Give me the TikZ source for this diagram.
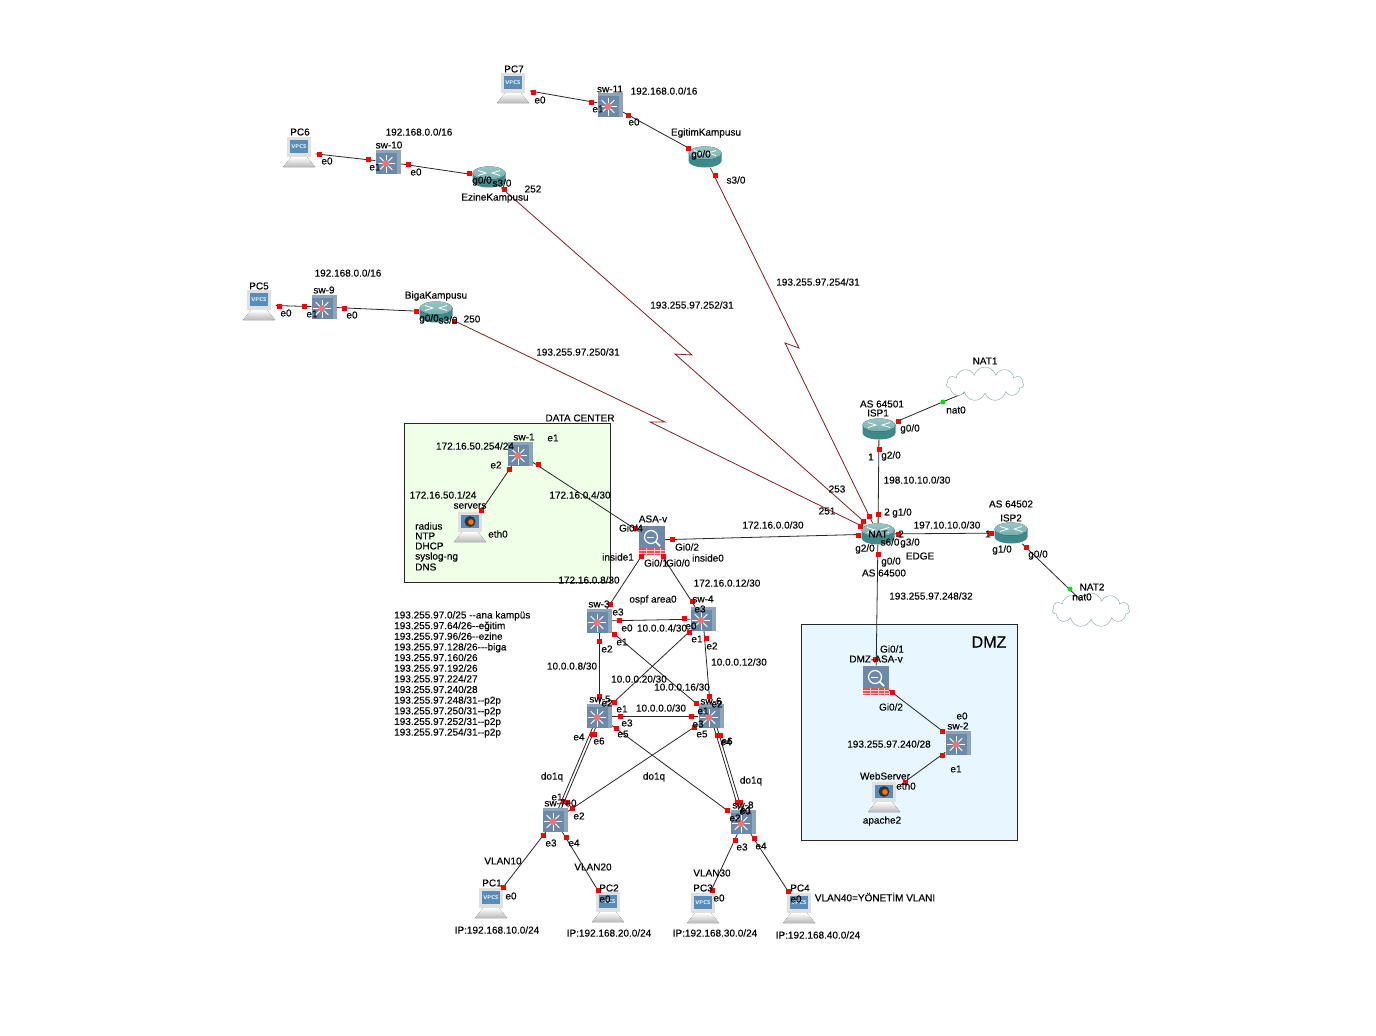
\documentclass[tikz,border=0pt]{standalone}
\usepackage{fontspec}
\setmainfont{Liberation Sans}[FakeBold=0.2]
\usetikzlibrary{shapes.geometric, shapes.symbols, backgrounds}
\definecolor{swfront}{RGB}{108, 138, 168}
\definecolor{swside}{RGB}{140, 165, 188}
\definecolor{screenblue}{RGB}{88, 140, 185}
\definecolor{routerbody}{RGB}{62, 138, 138}
\definecolor{routertop}{RGB}{150, 198, 198}
\definecolor{cloudline}{RGB}{125, 160, 170}
\definecolor{serialred}{RGB}{130, 30, 35}
\definecolor{dcgreen}{RGB}{240, 255, 232}
\definecolor{dmzblue}{RGB}{232, 246, 255}
\definecolor{wallred}{RGB}{232, 80, 85}
\newcommand{\swicon}{%
  \begin{scope}[shift={(path picture bounding box.center)}]
    \fill[swfront] (-12.5,-9) rectangle (9,12);
    \foreach \a in {0,45,...,315} \draw[white, line width=0.9pt] (-2,1.5) -- ++(\a:9pt);
    \fill[wallred!80!white] (-2,1.5) circle (3.4pt);
  \end{scope}}
\newcommand{\routericon}{%
  \begin{scope}[shift={(path picture bounding box.center)}]
    \fill[routerbody] (-16.5,-4) rectangle (16.5,4) (0,4) ellipse (16.5pt and 6.5pt);
    \fill[top color=routertop, bottom color=routerbody!70!white] (0,-4) ellipse (16.5pt and 6.5pt);
    \draw[white, line width=0.8pt] (-11,-6.5) -- (-3,-4) -- (-11,-1.5);
    \draw[white, line width=0.8pt] (11,-6.5) -- (3,-4) -- (11,-1.5);
  \end{scope}}
\newcommand{\laptopbody}{%
  \fill[black!12] (-12,-15) rectangle (12,5);
  \fill[top color=white, bottom color=black!28] (-8,5) -- (8,5) -- (16,15) -- (-16,15) -- cycle;}
\newcommand{\vpcsicon}{%
  \begin{scope}[shift={(path picture bounding box.center)}]
    \laptopbody
    \fill[screenblue] (-9,-12) rectangle (9,1);
    \node (vpcsmark) [text=white, inner sep=0pt, font=\sffamily\bfseries\fontsize{5.5}{6}\selectfont] at (0,-5.5) {VPCS};
  \end{scope}}
\newcommand{\hosticon}{%
  \begin{scope}[shift={(path picture bounding box.center)}]
    \laptopbody
    \fill[screenblue] (-9,-12) rectangle (9,1);
    \fill[black!80] (0,-5.5) circle (5.5pt);
    \fill[orange!90!red] (1,-5) circle (2.8pt);
  \end{scope}}
\newcommand{\wallicon}{%
  \begin{scope}[shift={(path picture bounding box.center)}]
    \fill[wallred] (-13,8) rectangle (13,15);
    \draw[white!80!red, line width=0.4pt] (-13,10.5) -- (13,10.5) (-13,13) -- (13,13) (-6,8) -- (-6,15) (2,8) -- (2,15) (8,8) -- (8,15);
    \draw[white, line width=1.2pt] (-1,-3) circle (6.5pt);
    \draw[white, line width=0.8pt] (-5,-3) -- (2,-3);
    \draw[white, line width=1.6pt] (3.5,1.5) -- (8,6);
  \end{scope}}
\tikzstyle{switchbox} = [rectangle, inner sep=0pt, minimum width=25pt, minimum height=24pt, fill=swside, path picture={\swicon}]
\tikzstyle{router} = [rectangle, inner sep=0pt, minimum width=33pt, minimum height=21pt, path picture={\routericon}]
\tikzstyle{vpcs} = [rectangle, inner sep=0pt, minimum width=33pt, minimum height=30pt, path picture={\vpcsicon}]
\tikzstyle{hostbox} = [rectangle, inner sep=0pt, minimum width=33pt, minimum height=30pt, path picture={\hosticon}]
\tikzstyle{firewall} = [rectangle, inner sep=0pt, minimum width=26pt, minimum height=29pt, fill=swfront, path picture={\wallicon}]
\tikzstyle{natcloud} = [cloud, cloud puffs=11, aspect=2.2, inner sep=0pt, minimum width=77pt, minimum height=34pt, draw=cloudline, fill=white]
\tikzstyle{zone} = [rectangle, draw=black!85, line width=0.9pt, inner sep=0pt]
\tikzstyle{port} = [rectangle, inner sep=0pt, minimum size=5pt, fill=red]
\tikzstyle{uplink} = [circle, inner sep=0pt, minimum size=5pt, fill=green!90!black]
\tikzstyle{lbl} = [inner sep=0pt, font=\fontsize{10}{10.65}\selectfont]
\tikzstyle{wire} = [line width=0.8pt, black!85]
\tikzstyle{serial} = [line width=0.8pt, serialred]
\begin{document}
\begin{tikzpicture}[x=1pt, y=-1pt]
\useasboundingbox (0,0) rectangle (1376,1036);

% Zones
\begin{scope}[on background layer]
\node (dczone) [zone, fill=dcgreen, minimum width=206pt, minimum height=159pt] at (507,502.5) {};
\node (dmzzone) [zone, fill=dmzblue, minimum width=216pt, minimum height=216pt] at (909,732) {};
\end{scope}

% Campus sites
\node (pc7) [vpcs] at (513,88) {};
\node (sw11) [switchbox] at (610,105) {};
\node (egitim) [router] at (705,157) {};
\node (pc6) [vpcs] at (299,152) {};
\node (sw10) [switchbox] at (388,162) {};
\node (ezine) [router] at (489,177) {};
\node (pc5) [vpcs] at (259,305) {};
\node (sw9) [switchbox] at (324,307) {};
\node (biga) [router] at (436,312) {};

% Edge and providers
\node (nat) [router] at (878,534) {};
\node (isp1) [router] at (879,429) {};
\node (isp2) [router] at (1011,533) {};
\node (natcloudone) [natcloud] at (985,384) {};
\node (natcloudtwo) [natcloud] at (1091,610) {};

% Data center
\node (sw1) [switchbox] at (520,454) {};
\node (servers) [hostbox] at (470,527) {};
\node (asa) [firewall] at (652,540) {};

% Core and access
\node (sw3) [switchbox] at (599,621) {};
\node (sw4) [switchbox] at (703,619) {};
\node (sw5) [switchbox] at (599,716) {};
\node (sw6) [switchbox] at (711,716) {};
\node (sw7) [switchbox] at (555,820) {};
\node (sw8) [switchbox] at (743,822) {};
\node (pc1) [vpcs] at (491,903) {};
\node (pc2) [vpcs] at (608,907) {};
\node (pc3) [vpcs] at (703,908) {};
\node (pc4) [vpcs] at (799,908) {};

% DMZ
\node (dmzasa) [firewall] at (876,680) {};
\node (sw2) [switchbox] at (958,743) {};
\node (webserver) [hostbox] at (884,797) {};

% Bends of the serial links
\coordinate (egitimA) at (799,348);
\coordinate (egitimB) at (785,343);
\coordinate (ezineA) at (692,355);
\coordinate (ezineB) at (675,354);
\coordinate (bigaA) at (665,422);
\coordinate (bigaB) at (650,422);

% Links
\begin{scope}[on background layer]
\draw [wire] (pc7) -- (sw11);
\draw [wire] (sw11) -- (egitim);
\draw [wire] (pc6) -- (sw10);
\draw [wire] (sw10) -- (ezine);
\draw [wire] (pc5) -- (sw9);
\draw [wire] (sw9) -- (biga);
\draw [serial] (egitim) -- (egitimA) -- (egitimB) -- (nat);
\draw [serial] (ezine) -- (ezineA) -- (ezineB) -- (nat);
\draw [serial] (biga) -- (bigaA) -- (bigaB) -- (nat);
\draw [wire] (isp1) -- (natcloudone);
\draw [wire] (isp2) -- (natcloudtwo);
\draw [wire] (isp1) -- (nat);
\draw [wire] (nat) -- (isp2);
\draw [wire] (asa) -- (nat);
\draw [wire] (nat) -- (dmzasa);
\draw [wire] (dmzasa) -- (sw2);
\draw [wire] (sw2) -- (webserver);
\draw [wire] (sw1) -- (asa);
\draw [wire] (sw1) -- (servers);
\draw [wire] (asa) -- (sw3);
\draw [wire] (asa) -- (sw4);
\draw [wire] (sw3) -- (sw4);
\draw [wire] (sw3) -- (sw5);
\draw [wire] (sw3) -- (sw6);
\draw [wire] (sw4) -- (sw5);
\draw [wire] (sw4) -- (sw6);
\draw [wire] (sw5) -- (sw6);
\draw [wire] (sw5) -- (sw8);
\draw [wire] (sw6) -- (sw7);
\draw [wire] ([xshift=-1.5pt]sw5.center) -- ([xshift=-1.5pt]sw7.center);
\draw [wire] ([xshift=1.5pt]sw5.center) -- ([xshift=1.5pt]sw7.center);
\draw [wire] ([xshift=-0.5pt]sw6.center) -- ([xshift=-0.5pt]sw8.center);
\draw [wire] ([xshift=2.5pt]sw6.center) -- ([xshift=2.5pt]sw8.center);
\draw [wire] (sw7) -- (pc1);
\draw [wire] (sw7) -- (pc2);
\draw [wire] (sw8) -- (pc3);
\draw [wire] (sw8) -- (pc4);
\end{scope}

% Ports, campus sites
\node (p1) [port] at (533,92) {}; \node (p2) [port] at (591,102) {};
\node (p3) [port] at (628,115) {}; \node (p4) [port] at (688,148) {};
\node (p5) [port] at (715,175) {};
\node (p6) [port] at (319,154) {}; \node (p7) [port] at (368,159) {};
\node (p8) [port] at (408,164) {}; \node (p9) [port] at (469,173) {};
\node (p10) [port] at (504,189) {};
\node (p11) [port] at (279,306) {}; \node (p12) [port] at (304,306) {};
\node (p13) [port] at (344,308) {}; \node (p14) [port] at (416,311) {};
\node (p15) [port] at (454,321) {};

% Ports, data center and firewall
\node (p16) [port] at (509,469) {}; \node (p17) [port] at (538,464) {};
\node (p18) [port] at (481,510) {}; \node (p19) [port] at (635,528) {};
\node (p20) [port] at (672,539) {}; \node (p21) [port] at (641,556) {};
\node (p22) [port] at (663,556) {};

% Ports, core
\node (p23) [port] at (610,604) {}; \node (p24) [port] at (692,601) {};
\node (p25) [port] at (619,620) {}; \node (p26) [port] at (684,618) {};
\node (p27) [port] at (614,634) {}; \node (p28) [port] at (689,632) {};
\node (p29) [port] at (706,638) {}; \node (p30) [port] at (599,641) {};
\node (p31) [port] at (599,696) {}; \node (p32) [port] at (614,702) {};
\node (p33) [port] at (620,716) {}; \node (p34) [port] at (691,716) {};
\node (p35) [port] at (709,696) {}; \node (p36) [port] at (696,703) {};
\node (p37) [port] at (616,728) {}; \node (p38) [port] at (694,727) {};
\node (p39) [port] at (592,734) {}; \node (p40) [port] at (594,734) {};
\node (p41) [port] at (717,735) {}; \node (p42) [port] at (720,735) {};

% Ports, access
\node (p43) [port] at (563,801) {}; \node (p44) [port] at (567,802) {};
\node (p45) [port] at (572,808) {}; \node (p46) [port] at (543,835) {};
\node (p47) [port] at (566,837) {}; \node (p48) [port] at (727,810) {};
\node (p49) [port] at (737,802) {}; \node (p50) [port] at (740,802) {};
\node (p51) [port] at (735,840) {}; \node (p52) [port] at (754,838) {};
\node (p53) [port] at (503,887) {}; \node (p54) [port] at (598,890) {};
\node (p55) [port] at (712,890) {}; \node (p56) [port] at (788,891) {};

% Ports, edge
\node (p57) [uplink] at (943,402) {}; \node (p58) [port] at (898,421) {};
\node (p59) [port] at (879,449) {}; \node (p60) [port] at (878,514) {};
\node (p61) [port] at (869,516) {}; \node (p62) [port] at (863,521) {};
\node (p63) [port] at (860,526) {}; \node (p64) [port] at (858,535) {};
\node (p65) [port] at (898,534) {}; \node (p66) [port] at (991,533) {};
\node (p67) [port] at (1026,547) {}; \node (p68) [uplink] at (1070,589) {};
\node (p69) [port] at (878,554) {};

% Ports, DMZ
\node (p70) [port] at (875,659) {}; \node (p71) [port] at (892,692) {};
\node (p72) [port] at (942,731) {}; \node (p73) [port] at (942,755) {};
\node (p74) [port] at (905,782) {};

% Labels, campus sites
\node (tpc7) [lbl] at (514,69) {PC7};
\node (tpc7e) [lbl] at (540,100) {e0};
\node (tsw11) [lbl] at (610,89) {sw-11};
\node (tnet11) [lbl] at (664,91) {192.168.0.0/16};
\node (tsw11a) [lbl] at (598,109) {e1};
\node (tsw11b) [lbl] at (634,122) {e0};
\node (tegitim) [lbl] at (706,133) {EgitimKampusu};
\node (tegitima) [lbl] at (701,155) {g0/0};
\node (tegitimb) [lbl] at (736,180) {s3/0};
\node (tpc6) [lbl] at (300,132) {PC6};
\node (tpc6e) [lbl] at (327,161) {e0};
\node (tsw10) [lbl] at (389,145) {sw-10};
\node (tnet10) [lbl] at (419,132) {192.168.0.0/16};
\node (tsw10a) [lbl] at (375,167) {e1};
\node (tsw10b) [lbl] at (416,172) {e0};
\node (tezinea) [lbl] at (482,181) {g0/0};
\node (tezineb) [lbl] at (502,183) {s3/0};
\node (tezinec) [lbl] at (533,189) {252};
\node (tezine) [lbl] at (495,198) {EzineKampusu};
\node (tpc5) [lbl] at (259,286) {PC5};
\node (tpc5e) [lbl] at (286,313) {e0};
\node (tsw9) [lbl] at (324,290) {sw-9};
\node (tnet9) [lbl] at (348,273) {192.168.0.0/16};
\node (tsw9a) [lbl] at (312,314) {e1};
\node (tsw9b) [lbl] at (352,315) {e0};
\node (tbiga) [lbl] at (436,296) {BigaKampusu};
\node (tbigaa) [lbl] at (429,319) {g0/0};
\node (tbigab) [lbl] at (448,320) {s3/0};
\node (tbigac) [lbl] at (472,319) {250};

% Labels, serial links
\node (tser1) [lbl] at (818,282) {193.255.97.254/31};
\node (tser2) [lbl] at (692,305) {193.255.97.252/31};
\node (tser3) [lbl] at (578,352) {193.255.97.250/31};

% Labels, data center
\node (tdc) [lbl] at (580,418) {DATA CENTER};
\node (tsw1) [lbl] at (524,437) {sw-1};
\node (tsw1a) [lbl] at (553,438) {e1};
\node (tsw1b) [lbl] at (496,465) {e2};
\node (tnet1) [lbl] at (475,446) {172.16.50.254/24};
\node (tnet2) [lbl] at (443,495) {172.16.50.1/24};
\node (tnet3) [lbl] at (580,495) {172.16.0.4/30};
\node (tservers) [lbl] at (470,506) {servers};
\node (tsrve) [lbl] at (498,534) {eth0};
\node (tsrv1) [lbl, anchor=west] at (415,526) {radius};
\node (tsrv2) [lbl, anchor=west] at (415,536) {NTP};
\node (tsrv3) [lbl, anchor=west] at (415,546) {DHCP};
\node (tsrv4) [lbl, anchor=west] at (415,557) {syslog-ng};
\node (tsrv5) [lbl, anchor=west] at (415,567) {DNS};
\node (tnet4) [lbl] at (589,580) {172.16.0.8/30};

% Labels, firewall and core
\node (tasa) [lbl] at (653,519) {ASA-v};
\node (tasaa) [lbl] at (631,528) {Gi0/4};
\node (tasab) [lbl] at (687,547) {Gi0/2};
\node (tasac) [lbl] at (656,563) {Gi0/1};
\node (tasad) [lbl] at (678,563) {Gi0/0};
\node (tins1) [lbl] at (618,557) {inside1};
\node (tins0) [lbl] at (708,558) {inside0};
\node (tnet5) [lbl] at (773,525) {172.16.0.0/30};
\node (tnet6) [lbl] at (727,583) {172.16.0.12/30};
\node (tospf) [lbl] at (653,600) {ospf area0};
\node (tsw3) [lbl] at (599,604) {sw-3};
\node (tsw4) [lbl] at (703,599) {sw-4};
\node (tsw3a) [lbl] at (618,612) {e3};
\node (tsw4a) [lbl] at (700,609) {e3};
\node (tsw3b) [lbl] at (627,628) {e0};
\node (tnet7) [lbl] at (662,628) {10.0.0.4/30};
\node (tsw4b) [lbl] at (691,626) {e0};
\node (tsw3c) [lbl] at (622,642) {e1};
\node (tsw4c) [lbl] at (697,639) {e1};
\node (tsw3d) [lbl] at (607,649) {e2};
\node (tsw4d) [lbl] at (712,646) {e2};
\node (tnet8) [lbl] at (572,666) {10.0.0.8/30};
\node (tnet9b) [lbl] at (739,662) {10.0.0.12/30};
\node (tnet10b) [lbl] at (639,679) {10.0.0.20/30};
\node (tnet11b) [lbl] at (682,687) {10.0.0.16/30};
\node (tsw5) [lbl] at (600,699) {sw-5};
\node (tsw5a) [lbl] at (607,703) {e2};
\node (tsw6) [lbl] at (711,701) {sw-6};
\node (tsw6a) [lbl] at (717,704) {e2};
\node (tsw5b) [lbl] at (622,709) {e1};
\node (tnet12) [lbl] at (661,708) {10.0.0.0/30};
\node (tsw6b) [lbl] at (703,711) {e1};
\node (tsw5c) [lbl] at (627,723) {e3};
\node (tsw6c) [lbl] at (698,724) {e3};
\node (tsw5d) [lbl] at (623,734) {e5};
\node (tsw6d) [lbl] at (702,734) {e5};
\node (tsw5e) [lbl] at (579,737) {e4};
\node (tsw5f) [lbl] at (599,741) {e6};
\node (tsw6e) [lbl] at (726,742) {e4};
\node (tsw6f) [lbl] at (727,741) {e6};

% Labels, access
\node (tq1) [lbl] at (552,777) {do1q};
\node (tq2) [lbl] at (654,777) {do1q};
\node (tq3) [lbl] at (751,781) {do1q};
\node (tsw7a) [lbl] at (557,797) {e1};
\node (tsw7) [lbl] at (555,803) {sw-7};
\node (tsw7b) [lbl] at (571,803) {e0};
\node (tsw7c) [lbl] at (579,816) {e2};
\node (tsw7d) [lbl] at (551,843) {e3};
\node (tsw7e) [lbl] at (574,843) {e4};
\node (tsw8) [lbl] at (743,805) {sw-8};
\node (tsw8a) [lbl] at (745,811) {e0};
\node (tsw8b) [lbl] at (746,810) {e1};
\node (tsw8c) [lbl] at (735,818) {e2};
\node (tsw8d) [lbl] at (742,847) {e3};
\node (tsw8e) [lbl] at (761,846) {e4};
\node (tv10) [lbl] at (503,861) {VLAN10};
\node (tv20) [lbl] at (593,867) {VLAN20};
\node (tv30) [lbl] at (712,873) {VLAN30};
\node (tv40) [lbl] at (875,897) {VLAN40=YÖNETİM VLANI};
\node (tpc1) [lbl] at (492,883) {PC1};
\node (tpc1e) [lbl] at (511,896) {e0};
\node (tpc2) [lbl] at (609,888) {PC2};
\node (tpc2e) [lbl] at (605,899) {e0};
\node (tpc3) [lbl] at (703,888) {PC3};
\node (tpc3e) [lbl] at (719,898) {e0};
\node (tpc4) [lbl] at (800,888) {PC4};
\node (tpc4e) [lbl] at (796,899) {e0};
\node (tip1) [lbl] at (497,930) {IP:192.168.10.0/24};
\node (tip2) [lbl] at (609,933) {IP:192.168.20.0/24};
\node (tip3) [lbl] at (715,933) {IP:192.168.30.0/24};
\node (tip4) [lbl] at (818,935) {IP:192.168.40.0/24};

% Labels, edge
\node (tnat1) [lbl] at (985,361) {NAT1};
\node (tnat1e) [lbl] at (956,410) {nat0};
\node (tas1) [lbl] at (882,404) {AS 64501};
\node (tisp1) [lbl] at (878,413) {ISP1};
\node (tisp1a) [lbl] at (910,429) {g0/0};
\node (tisp1b) [lbl] at (871,457) {1};
\node (tisp1c) [lbl] at (891,456) {g2/0};
\node (tnet13) [lbl] at (917,480) {198.10.10.0/30};
\node (t253) [lbl] at (837,489) {253};
\node (t251) [lbl] at (827,511) {251};
\node (tnat2b) [lbl] at (887,512) {2};
\node (tnatb) [lbl] at (902,513) {g1/0};
\node (tas2) [lbl] at (1011,504) {AS 64502};
\node (tisp2) [lbl] at (1011,518) {ISP2};
\node (tnet14) [lbl] at (947,525) {197.10.10.0/30};
\node (tnat) [lbl] at (878,534) {NAT};
\node (tnats) [lbl] at (890,542) {s6/0};
\node (tnat2c) [lbl] at (901,534) {2};
\node (tnatc) [lbl] at (910,543) {g3/0};
\node (tisp2a) [lbl] at (988,534) {1};
\node (tisp2b) [lbl] at (1002,550) {g1/0};
\node (tisp2c) [lbl] at (1038,555) {g0/0};
\node (tnatd) [lbl] at (865,549) {g2/0};
\node (tedge) [lbl] at (920,556) {EDGE};
\node (tnate) [lbl] at (891,562) {g0/0};
\node (tas0) [lbl] at (884,573) {AS 64500};
\node (tnet15) [lbl] at (931,596) {193.255.97.248/32};
\node (tnat2) [lbl] at (1092,587) {NAT2};
\node (tnat2e) [lbl] at (1082,597) {nat0};

% Labels, DMZ
\node (tdmz) [lbl, font=\fontsize{16}{18}\selectfont] at (989,642) {DMZ};
\node (tdmza) [lbl] at (892,649) {Gi0/1};
\node (tdmzasa) [lbl] at (876,659) {DMZ-ASA-v};
\node (tdmzb) [lbl] at (891,707) {Gi0/2};
\node (tsw2a) [lbl] at (962,716) {e0};
\node (tsw2) [lbl] at (958,726) {sw-2};
\node (tnet16) [lbl] at (889,744) {193.255.97.240/28};
\node (tsw2b) [lbl] at (956,769) {e1};
\node (tweb) [lbl] at (885,776) {WebServer};
\node (tweba) [lbl] at (906,786) {eth0};
\node (tapache) [lbl] at (882,821) {apache2};

% Address plan
\node (tplan) [lbl, anchor=north west, align=left] at (394,611) {193.255.97.0/25 {-}{-}ana kampüs\\193.255.97.64/26{-}{-}eğitim\\193.255.97.96/26{-}{-}ezine\\193.255.97.128/26{-}{-}{-}biga\\193.255.97.160/26\\193.255.97.192/26\\193.255.97.224/27\\193.255.97.240/28\\193.255.97.248/31{-}{-}p2p\\193.255.97.250/31{-}{-}p2p\\193.255.97.252/31{-}{-}p2p\\193.255.97.254/31{-}{-}p2p};

\end{tikzpicture}
\end{document}
